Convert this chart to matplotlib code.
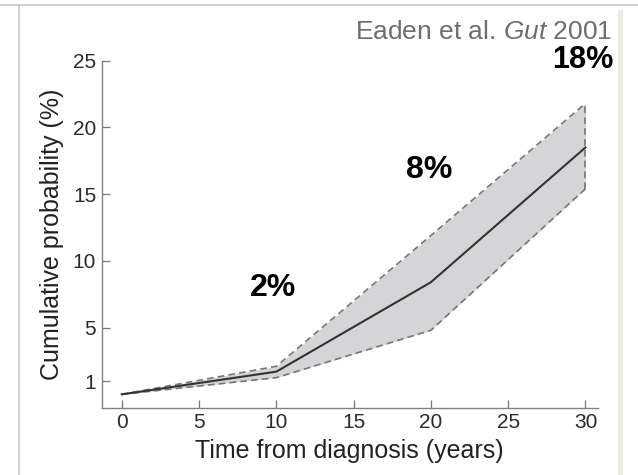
import matplotlib.pyplot as plt
from matplotlib.lines import Line2D
from matplotlib.patches import Rectangle

plt.rcParams['font.family'] = ['Liberation Sans', 'DejaVu Sans']
plt.rcParams['mathtext.fontset'] = 'custom'
plt.rcParams['mathtext.rm'] = 'Liberation Sans'
plt.rcParams['mathtext.it'] = 'Liberation Sans:italic'

# data
years = [0, 10, 20, 30]
risk = [0.0, 1.7, 8.4, 18.5]       # cumulative probability (%)
upper = [0.0, 2.1, 11.9, 21.8]     # upper CI
lower = [0.0, 1.25, 4.8, 15.4]     # lower CI
labels = ['2%', '8%', '18%']
label_x = [9.8, 19.9]
label_y = [8.0, 16.8]
yticks = [1, 5, 10, 15, 20, 25]
xticks = [0, 5, 10, 15, 20, 25, 30]

fig = plt.figure(figsize=(6.38, 4.75), dpi=100)
ax = fig.add_axes([0.1594, 0.1417, 0.937 - 0.1594, 0.8722 - 0.1417])

ax.fill_between(years, lower, upper, color='#d5d5d7', lw=0)
ax.plot(years, upper, c='#777777', lw=1.2, ls=(0, (4, 2.5)))
ax.plot(years, lower, c='#777777', lw=1.2, ls=(0, (4, 2.5)))
ax.plot([years[-1], years[-1]], [lower[-1], upper[-1]], c='#777777', lw=1.2, ls=(0, (4, 2.5)))
ax.plot(years, risk, c='#333333', lw=1.5)

for t, x, y in zip(labels[:2], label_x, label_y):
    ax.text(x, y, t, fontsize=23, fontweight='bold', ha='center', va='center', color='black')

ax.set_xlim(-1.3, 30.8)
ax.set_ylim(-1, 25)
ax.set_xticks(xticks)
ax.set_yticks(yticks)
ax.tick_params(direction='in', length=6, width=0.9, color='#777777', labelsize=15, labelcolor='#2a2a2a', pad=4)
for s in ['top', 'right']:
    ax.spines[s].set_visible(False)
for s in ['left', 'bottom']:
    ax.spines[s].set_color('#808080')
    ax.spines[s].set_linewidth(1.0)
ax.spines['left'].set_bounds(-1, 25)

ax.set_xlabel('Time from diagnosis (years)', fontsize=18, color='#222222', labelpad=5)
ax.set_ylabel('Cumulative probability (%)', fontsize=18, color='#222222', labelpad=6)

fig.text(0.96, 0.917, 'Eaden et al. $\\it{Gut}$ 2001', fontsize=19, color='#6e6e6e', ha='right', va='baseline')
fig.text(0.962, 0.857, labels[2], fontsize=22, fontweight='bold', ha='right', va='baseline', color='black')

# frame around the picture
fig.add_artist(Line2D([0.0, 1.0], [0.989, 0.989], color='#c8c8c8', lw=1.2))
fig.add_artist(Line2D([0.03, 0.03], [0.0, 0.989], color='#c8c8c8', lw=1.2))
fig.add_artist(Rectangle((0.968, 0.0), 0.009, 0.978, color='#eeebe3', lw=0))

fig.savefig('out.png')
